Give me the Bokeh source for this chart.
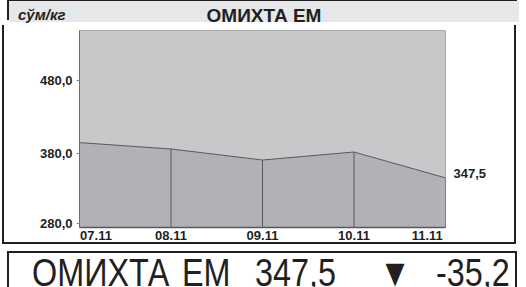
from bokeh.plotting import figure
from bokeh.models import Div, FixedTicker, LinearAxis, Range1d
from bokeh.layouts import column
from bokeh.embed import file_html
from bokeh.resources import INLINE

# ---- data ----
dates = ["07.11", "08.11", "09.11", "10.11", "11.11"]
prices = [395.5, 386.8, 371.8, 382.7, 347.5]
y_ticks = [280, 380, 480]
y_tick_labels = ["280,0", "380,0", "480,0"]
unit_label = "сўм/кг"
title_text = "ОМИХТА ЕМ"
last_label = "347,5"
change_label = "-35,2"

idx = list(range(len(dates)))
y0, y1 = 280, 548

DARK = "#231f20"
BORDER = f"2px solid {DARK}"

p = figure(output_backend="svg", toolbar_location=None,
           frame_width=362, frame_height=195,
           min_border_left=75, min_border_right=73,
           min_border_top=5, min_border_bottom=17,
           x_range=Range1d(0, len(dates) - 1), y_range=Range1d(y0, y1),
           x_axis_location=None, y_axis_location=None,
           styles={"border-left": BORDER, "border-right": BORDER, "border-bottom": BORDER})
p.background_fill_color = "#c7c8ca"
p.border_fill_color = "white"
p.outline_line_color = "#a7a9ac"
p.grid.visible = False

p.varea(x=idx, y1=[y0] * len(idx), y2=prices, fill_color="#b1b2b5")
p.line(x=idx, y=prices, line_color="#58595b", line_width=1)
p.segment(x0=idx, y0=[y0] * len(idx), x1=idx, y1=prices,
          line_color="#58595b", line_width=1)

# left axis
lt = list(y_ticks)
lt[0] = y_ticks[0] + 6  # nudge lowest label up
left = LinearAxis(ticker=FixedTicker(ticks=lt),
                  major_label_overrides={t: s for t, s in zip(lt, y_tick_labels)})
left.axis_line_color = "#6d6e71"
left.major_tick_out = 3
left.major_tick_in = 0
left.major_tick_line_color = "#808285"
left.minor_tick_line_color = None
left.major_label_standoff = 4
left.major_label_text_font = "Liberation Sans"
left.major_label_text_font_style = "bold"
left.major_label_text_font_size = "13px"
left.major_label_text_color = DARK
p.add_layout(left, "left")

# bottom axis
bt = [float(i) for i in idx]
bt[0] = 0.18
bt[-1] = len(idx) - 1 - 0.2
bottom = LinearAxis(ticker=FixedTicker(ticks=bt),
                    major_label_overrides={t: s for t, s in zip(bt, dates)})
bottom.axis_line_color = "#58595b"
bottom.axis_line_width = 1.5
bottom.major_tick_out = 0
bottom.major_tick_in = 0
bottom.minor_tick_line_color = None
bottom.major_label_standoff = 3
bottom.major_label_text_font = "Liberation Sans"
bottom.major_label_text_font_style = "bold"
bottom.major_label_text_font_size = "13px"
bottom.major_label_text_color = DARK
p.add_layout(bottom, "below")

# right axis showing last value
rt = prices[-1] + 5.5
right = LinearAxis(ticker=FixedTicker(ticks=[rt]),
                   major_label_overrides={rt: last_label})
right.axis_line_color = None
right.major_tick_out = 0
right.major_tick_in = 0
right.minor_tick_line_color = None
right.major_label_standoff = 8
right.major_label_text_font = "Liberation Sans"
right.major_label_text_font_style = "bold"
right.major_label_text_font_size = "13px"
right.major_label_text_color = DARK
p.add_layout(right, "right")

header = Div(width=510, height=21,
             text=(f'<div style="position:relative;width:510px;height:21px;'
                   f'background:#e6e7e8;font-family:Liberation Sans,Arial,sans-serif;color:{DARK};">'
                   f'<span style="position:absolute;left:9px;top:3px;font-size:15px;'
                   f'font-weight:bold;font-style:italic;">{unit_label}</span>'
                   f'<span style="position:absolute;left:0;width:510px;top:1px;text-align:center;'
                   f'font-size:19px;font-weight:bold;">{title_text}</span></div>'),
             styles={"border-top": BORDER, "border-left": BORDER, "border-right": BORDER})

font = "'Liberation Sans',Arial,sans-serif"
parts = [("ОМИХТА", 22.5), ("ЕМ", 172.5), (last_label, 245.5),
         ("▼", 370), (change_label, 426.5)]
spans = "".join(
    f'<span style="position:absolute;left:{x}px;top:0px;line-height:39px;'
    f'transform:scaleX(0.83);transform-origin:0 0;white-space:nowrap;">{t}</span>'
    for t, x in parts)
bottom_div = Div(width=510, height=40,
                 text=(f'<div style="position:relative;width:510px;height:40px;'
                       f'font-family:{font};font-size:39px;color:{DARK};">{spans}</div>'),
                 styles={"border": BORDER, "margin-top": "7px"})

root = column(header, p, bottom_div, spacing=0,
              styles={"margin-top": "-6px", "margin-left": "2px"})

open("out.html", "w").write(file_html(root, INLINE))
